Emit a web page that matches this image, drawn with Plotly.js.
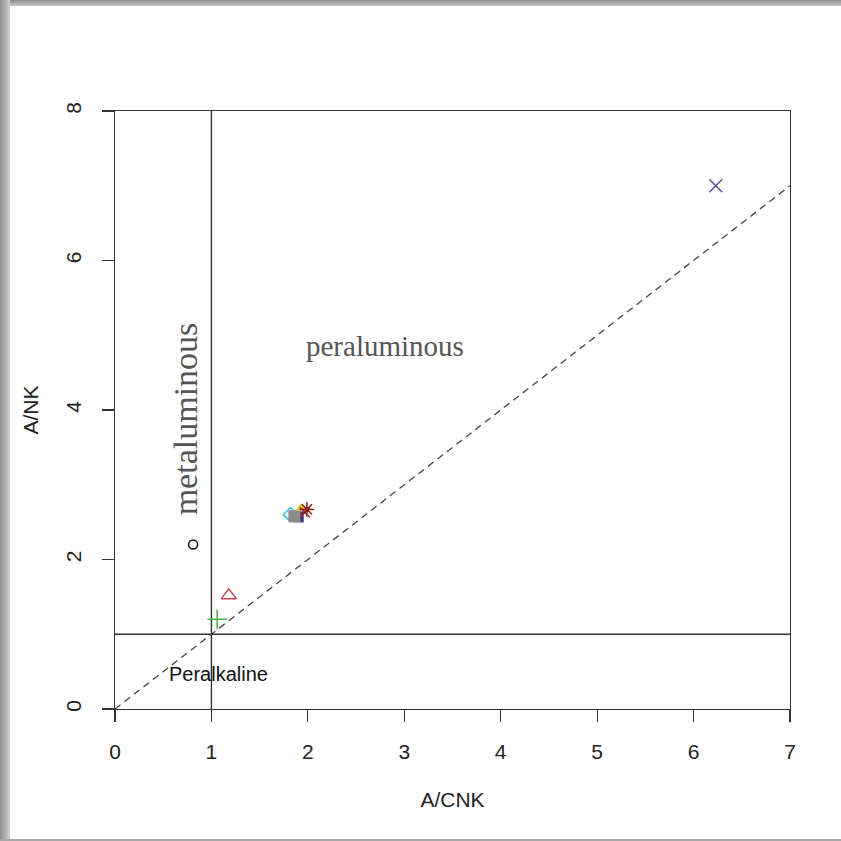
<!DOCTYPE html>
<html>
<head>
<meta charset="utf-8">
<script src="https://cdn.plot.ly/plotly-3.0.1.min.js"></script>
<style>
  html, body { margin: 0; padding: 0; background: #ffffff; }
  #wrap { position: relative; width: 841px; height: 841px; overflow: hidden; }
  #chart { position: absolute; left: 0; top: 0; width: 841px; height: 841px; }
  .frame { position: absolute; pointer-events: none; z-index: 10; }
  #ftop { left: 0; top: 0; width: 841px; height: 6px; background: linear-gradient(to bottom, #8f8f8f, #c8c8c8); }
  #fleft { left: 0; top: 0; width: 10px; height: 841px; background: linear-gradient(to right, #8f8f8f, #d0d0d0); }
  #fbottom { left: 0; top: 839px; width: 841px; height: 2px; background: #a8a8a8; }
</style>
</head>
<body>
<div id="wrap">
  <div id="chart"></div>
  <div class="frame" id="ftop"></div>
  <div class="frame" id="fleft"></div>
  <div class="frame" id="fbottom"></div>
</div>
<script>
// ---- data ----
const sampleNames = ['S1', 'S2', 'S3', 'S4', 'S5', 'S6', 'S7', 'S8', 'S9', 'S10'];
const acnk = [0.81, 1.18, 1.06, 6.23, 1.82, 1.90, 1.86, 1.93, 1.97, 1.99];
const ank  = [2.20, 1.52, 1.20, 7.00, 2.60, 2.57, 2.58, 2.69, 2.63, 2.67];

// boundary lines
const boundaryACNK = 1;
const boundaryANK = 1;
const diagX = [0, 7];
const diagY = [0, 7];
const xTicks = [0, 1, 2, 3, 4, 5, 6, 7];
const yTicks = [0, 2, 4, 6, 8];

// ---- styles (separate from data) ----
const styles = [
  {symbol: 'circle-open',        color: '#111111', size: 9,  lw: 1.5},
  {symbol: 'triangle-up-open',   color: '#c8474f', size: 13, lw: 1.5},
  {symbol: 'cross-thin-open',    color: '#44bb44', size: 14, lw: 1.6},
  {symbol: 'x-thin-open',        color: '#5a5aa0', size: 13, lw: 1.6},
  {symbol: 'diamond-open',       color: '#28c8d8', size: 11, lw: 1.5},
  {symbol: 'square',             color: '#3a3a7a', size: 11, lw: 0},
  {symbol: 'square',             color: '#8c8c8c', size: 12, lw: 0},
  {symbol: 'triangle-up',        color: '#e8c830', size: 10, lw: 0},
  {symbol: 'x-thin-open',        color: '#9b2a2a', size: 10, lw: 1.5},
  {symbol: 'asterisk-open',      color: '#8b1a1a', size: 12, lw: 1.5}
];

const lineColor = '#333333';
const traces = [];

// reference lines
traces.push({x: [boundaryACNK, boundaryACNK], y: [0, 8], mode: 'lines',
  line: {color: lineColor, width: 1.4}, hoverinfo: 'skip', showlegend: false});
traces.push({x: [0, 7], y: [boundaryANK, boundaryANK], mode: 'lines',
  line: {color: lineColor, width: 1.4}, hoverinfo: 'skip', showlegend: false});
traces.push({x: diagX, y: diagY, mode: 'lines',
  line: {color: '#444444', width: 1.3, dash: '7px,5px'}, hoverinfo: 'skip', showlegend: false});

// samples
sampleNames.forEach((name, i) => {
  const s = styles[i];
  const isOpen = s.symbol.indexOf('open') >= 0;
  traces.push({
    x: [acnk[i]], y: [ank[i]], name: name, mode: 'markers', showlegend: false,
    marker: {
      symbol: s.symbol, size: s.size,
      color: s.color,
      line: {color: s.color, width: isOpen ? s.lw : 0}
    }
  });
});

const sans = 'Liberation Sans, Arial, sans-serif';
const serif = 'Liberation Serif, Times New Roman, serif';

const axisCommon = {
  showgrid: false, zeroline: false,
  showline: true, mirror: true, linecolor: lineColor, linewidth: 1.2,
  ticks: 'outside', ticklen: 12, tickwidth: 1.2, tickcolor: lineColor,
  tickfont: {family: sans, size: 21, color: '#222222'},
  ticklabelstandoff: 12
};

const layout = {
  width: 841, height: 841,
  margin: {l: 115, r: 51, t: 111, b: 132},
  paper_bgcolor: '#ffffff', plot_bgcolor: '#ffffff',
  showlegend: false,
  xaxis: Object.assign({}, axisCommon, {
    range: [0, 7], tickvals: xTicks, ticktext: xTicks.map(String),
    title: {text: 'A/CNK', font: {family: sans, size: 21, color: '#222222'}, standoff: 29}
  }),
  yaxis: Object.assign({}, axisCommon, {
    range: [0, 8], tickvals: yTicks, ticktext: yTicks.map(String), tickangle: -90,
    title: {text: 'A/NK', font: {family: sans, size: 21, color: '#222222'}, standoff: 18}
  }),
  annotations: [
    {x: 2.80, y: 4.85, xref: 'x', yref: 'y', text: 'peraluminous', showarrow: false,
     font: {family: serif, size: 29, color: '#555555'}},
    {x: 0.74, y: 3.88, xref: 'x', yref: 'y', text: 'metaluminous', showarrow: false, textangle: -90,
     font: {family: serif, size: 34, color: '#555555'}},
    {x: 1.07, y: 0.47, xref: 'x', yref: 'y', text: 'Peralkaline', showarrow: false,
     font: {family: sans, size: 20, color: '#111111'}}
  ]
};

Plotly.newPlot('chart', traces, layout, {displayModeBar: false, staticPlot: true});
</script>
</body>
</html>
